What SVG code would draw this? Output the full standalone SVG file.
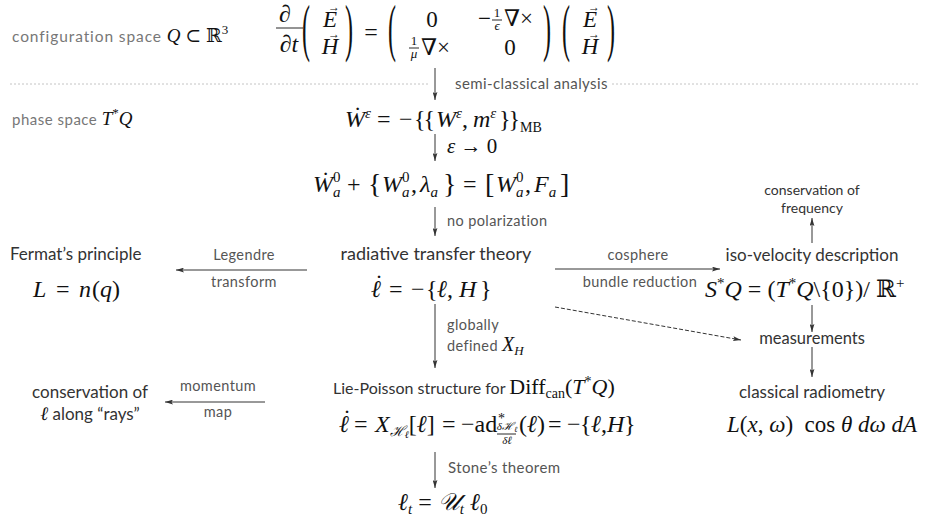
<svg xmlns="http://www.w3.org/2000/svg" width="925" height="522" viewBox="0 0 925 522">
<defs>
<style>
text{white-space:pre}
.s{font-family:Lato,"Noto Sans",sans-serif;fill:#333}
.sl{font-family:Lato,"Noto Sans",sans-serif;fill:#555;letter-spacing:0.4px}
.g{font-family:Lato,"Noto Sans",sans-serif;fill:#777;letter-spacing:0.5px}
.m{font-family:"Liberation Serif","DejaVu Serif",serif;fill:#111;letter-spacing:0}
.i{font-style:italic}
.c{stroke:#333;stroke-width:1;fill:none}
.bar{stroke:#111;stroke-width:0.9}
</style>
<marker id="ah" viewBox="0 0 10 6" refX="10" refY="3" markerWidth="8" markerHeight="5" orient="auto" markerUnits="userSpaceOnUse"><path d="M0,0 L10,3 L0,6 L2,3 z" fill="#333"/></marker>
</defs>
<rect width="925" height="522" fill="#fff"/>

<g id="sep">
<line x1="10" y1="84" x2="428" y2="84" stroke="#c4c4c4" stroke-width="1" stroke-dasharray="2 2"/>
<line x1="612" y1="84" x2="920" y2="84" stroke="#c4c4c4" stroke-width="1" stroke-dasharray="2 2"/>
<text class="g" x="12" y="42" font-size="15.5" style="letter-spacing:0.9px">configuration space <tspan class="m i" font-size="19">Q</tspan><tspan class="m" font-size="19"> ⊂ ℝ</tspan><tspan class="m" font-size="13" dy="-8">3</tspan></text>
<text class="g" x="12" y="125" font-size="15">phase space <tspan class="m i" font-size="19">T</tspan><tspan class="m" font-size="13" dy="-8">*</tspan><tspan class="m i" font-size="19" dy="8">Q</tspan></text>
</g>

<g id="maxwell">
<text class="m" x="285" y="22" font-size="24" text-anchor="middle">∂</text>
<line class="bar" x1="276" y1="28" x2="303" y2="28"/>
<text class="m" x="289" y="52" font-size="24" text-anchor="middle">∂<tspan class="i">t</tspan></text>
<text class="m" font-size="24" transform="translate(302,49) scale(1,2.6)">(</text>
<text class="m i" x="330" y="27" font-size="23" text-anchor="middle">E</text>
<text class="m" x="334" y="11" font-size="12" text-anchor="middle">→</text>
<text class="m i" x="330" y="54" font-size="23" text-anchor="middle">H</text>
<text class="m" x="334" y="38" font-size="12" text-anchor="middle">→</text>
<text class="m" font-size="24" transform="translate(345,49) scale(1,2.6)">)</text>
<text class="m" x="371" y="40" font-size="24" text-anchor="middle">=</text>
<text class="m" font-size="24" transform="translate(388,49) scale(1,2.6)">(</text>
<text class="m" x="432" y="27" font-size="23" text-anchor="middle">0</text>
<text class="m" x="414" y="45" font-size="13" text-anchor="middle">1</text>
<line class="bar" x1="409" y1="48" x2="419" y2="48"/>
<text class="m i" x="414" y="58" font-size="13" text-anchor="middle">μ</text>
<text class="m" x="421" y="55" font-size="23">∇×</text>
<text class="m" x="478" y="26" font-size="23">−</text>
<text class="m" x="497" y="17" font-size="13" text-anchor="middle">1</text>
<line class="bar" x1="492" y1="20" x2="502" y2="20"/>
<text class="m i" x="497" y="30" font-size="13" text-anchor="middle">ϵ</text>
<text class="m" x="504" y="26" font-size="23">∇×</text>
<text class="m" x="510" y="55" font-size="23" text-anchor="middle">0</text>
<text class="m" font-size="24" transform="translate(543,49) scale(1,2.6)">)</text>
<text class="m" font-size="24" transform="translate(562,49) scale(1,2.6)">(</text>
<text class="m i" x="590" y="27" font-size="23" text-anchor="middle">E</text>
<text class="m" x="594" y="11" font-size="12" text-anchor="middle">→</text>
<text class="m i" x="590" y="54" font-size="23" text-anchor="middle">H</text>
<text class="m" x="594" y="38" font-size="12" text-anchor="middle">→</text>
<text class="m" font-size="24" transform="translate(607,49) scale(1,2.6)">)</text>
</g>

<g id="wigner">
<text class="m" y="127" font-size="24"><tspan x="345" class="i">Ẇ</tspan><tspan class="i" font-size="15" dy="-9">ε</tspan><tspan x="377" dy="9">=</tspan><tspan x="399">−</tspan><tspan x="414" style="letter-spacing:-2px">{{</tspan><tspan x="436" class="i">W</tspan><tspan class="i" font-size="15" dy="-9">ε</tspan><tspan dy="9">,</tspan><tspan x="473" class="i">m</tspan><tspan class="i" font-size="15" dy="-9">ε</tspan><tspan x="499" dy="9" style="letter-spacing:-2px">}}</tspan><tspan x="520" font-size="14" dy="5">MB</tspan></text>
</g>

<g id="limit">
<text class="m" y="192" font-size="24"><tspan x="313" class="i">Ẇ</tspan><tspan font-size="15" dy="-10">0</tspan><tspan class="i" font-size="15" dx="-7.5" dy="15">a</tspan><tspan x="347" dy="-5">+</tspan><tspan x="368" dy="1" font-size="28">{</tspan><tspan x="382" dy="-1" class="i">W</tspan><tspan font-size="15" dy="-10">0</tspan><tspan class="i" font-size="15" dx="-7.5" dy="15">a</tspan><tspan x="411" dy="-5">,</tspan><tspan x="420" class="i">λ</tspan><tspan class="i" font-size="15" dy="5">a</tspan><tspan x="443" dy="-4" font-size="28">}</tspan><tspan x="463" dy="-1">=</tspan><tspan x="485" dy="1" font-size="28">[</tspan><tspan x="496" dy="-1" class="i">W</tspan><tspan font-size="15" dy="-10">0</tspan><tspan class="i" font-size="15" dx="-7.5" dy="15">a</tspan><tspan x="525" dy="-5">,</tspan><tspan x="534" class="i">F</tspan><tspan class="i" font-size="15" dy="5">a</tspan><tspan x="560" dy="-4" font-size="28">]</tspan></text>
</g>

<g id="rtt">
<text class="s" x="436" y="260" font-size="18" text-anchor="middle">radiative transfer theory</text>
<text class="m" y="297" font-size="24"><tspan x="371" class="i">ℓ</tspan><tspan x="389">=</tspan><tspan x="411">−</tspan><tspan x="426">{</tspan><tspan x="437" class="i">ℓ</tspan><tspan>,</tspan><tspan x="459" class="i">H</tspan><tspan x="480">}</tspan></text>
<text class="m" x="379" y="291" font-size="24" text-anchor="middle">˙</text>
</g>

<g id="fermat">
<text class="s" x="10" y="260" font-size="17">Fermat’s principle</text>
<text class="m" y="297" font-size="24"><tspan x="33" class="i">L</tspan><tspan x="56">=</tspan><tspan x="79" class="i">n</tspan><tspan x="92">(</tspan><tspan class="i">q</tspan><tspan>)</tspan></text>
</g>

<g id="isovel">
<text class="s" x="812" y="195" font-size="14" text-anchor="middle">conservation of</text>
<text class="s" x="812" y="213" font-size="14" text-anchor="middle">frequency</text>
<text class="s" x="812" y="261" font-size="17" text-anchor="middle">iso-velocity description</text>
<text class="m" x="705" y="297" font-size="24"><tspan class="i">S</tspan><tspan font-size="15" dy="-9">*</tspan><tspan class="i" dy="9">Q</tspan><tspan dx="6">=</tspan><tspan dx="6">(</tspan><tspan class="i">T</tspan><tspan font-size="15" dy="-9">*</tspan><tspan class="i" dy="9">Q</tspan><tspan>\{0})/ ℝ</tspan><tspan font-size="15" dy="-9">+</tspan></text>
</g>

<g id="meas">
<text class="s" x="812" y="344" font-size="16.5" text-anchor="middle">measurements</text>
</g>

<g id="radiometry">
<text class="s" x="812" y="398" font-size="17" text-anchor="middle">classical radiometry</text>
<text class="m" x="727" y="432" font-size="23"><tspan class="i">L</tspan>(<tspan class="i">x</tspan>, <tspan class="i">ω</tspan>)  cos <tspan class="i">θ dω dA</tspan></text>
</g>

<g id="rays">
<text class="s" x="90" y="398" font-size="17" text-anchor="middle">conservation of</text>
<text class="s" x="90" y="420" font-size="17" text-anchor="middle"><tspan class="m i" font-size="19">ℓ</tspan> along “rays”</text>
</g>

<g id="liepoisson">
<text class="s" x="333" y="394" font-size="16">Lie-Poisson structure for <tspan class="m" font-size="22">Diff</tspan><tspan class="m" font-size="14" dy="4">can</tspan><tspan class="m" font-size="22" dy="-4">(</tspan><tspan class="m i" font-size="22">T</tspan><tspan class="m" font-size="14" dy="-8">*</tspan><tspan class="m i" font-size="22" dy="8">Q</tspan><tspan class="m" font-size="22">)</tspan></text>
<text class="m" y="432" font-size="24"><tspan x="339" class="i">ℓ</tspan><tspan x="354">=</tspan><tspan x="375" class="i">X</tspan><tspan class="i" font-size="14" dy="4">ℋ</tspan><tspan class="i" font-size="10" dy="2">ℓ</tspan><tspan dy="-6">[</tspan><tspan class="i">ℓ</tspan><tspan>]</tspan><tspan x="442">=</tspan><tspan x="461">−ad</tspan><tspan x="519">(</tspan><tspan class="i">ℓ</tspan><tspan>)</tspan><tspan x="548">=</tspan><tspan x="567">−</tspan><tspan x="580">{</tspan><tspan x="591" class="i">ℓ</tspan><tspan>,</tspan><tspan x="607" class="i">H</tspan><tspan x="624">}</tspan></text>
<text class="m" x="347" y="426" font-size="24" text-anchor="middle">˙</text>
<text class="m" x="498" y="423" font-size="14">*</text>
<text class="m i" x="507" y="430" font-size="11" text-anchor="middle">δℋ<tspan font-size="8" dy="2">ℓ</tspan></text>
<line class="bar" x1="497" y1="434" x2="516" y2="434" stroke-width="0.7"/>
<text class="m i" x="507" y="444" font-size="11" text-anchor="middle">δℓ</text>
</g>

<g id="stone">
<text class="m" x="398" y="510" font-size="24"><tspan class="i">ℓ</tspan><tspan class="i" font-size="15" dy="4">t</tspan><tspan dy="-4"> = </tspan><tspan class="i">𝒰</tspan><tspan class="i" font-size="15" dy="4">t</tspan><tspan dy="-4"> </tspan><tspan class="i">ℓ</tspan><tspan font-size="15" dy="4">0</tspan></text>
</g>

<g id="connectors">
<path class="c" d="M435,68 V100" marker-end="url(#ah)"/>
<path class="c" d="M435,134 V161" marker-end="url(#ah)"/>
<path class="c" d="M435,207 V236" marker-end="url(#ah)"/>
<path class="c" d="M435,304 V368" marker-end="url(#ah)"/>
<path class="c" d="M435,452 V488" marker-end="url(#ah)"/>
<path class="c" d="M307,270 H176" marker-end="url(#ah)"/>
<path class="c" d="M265,402 H165" marker-end="url(#ah)"/>
<path class="c" d="M555,269 H720" marker-end="url(#ah)"/>
<path class="c" d="M812,243 V218" marker-end="url(#ah)"/>
<path class="c" d="M812,305 V332" marker-end="url(#ah)"/>
<path class="c" d="M812,347 V377" marker-end="url(#ah)"/>
<path class="c" d="M555,307 L741,340" stroke-dasharray="4 2" marker-end="url(#ah)"/>
<text class="sl" x="455" y="89" font-size="15">semi-classical analysis</text>
<text class="m" x="447" y="153" font-size="21"><tspan class="i">ε</tspan> → 0</text>
<text class="sl" x="447" y="226" font-size="14.5">no polarization</text>
<text class="sl" x="447" y="330" font-size="14.5">globally</text>
<text class="sl" x="447" y="351" font-size="14.5">defined <tspan class="m i" font-size="20">X</tspan><tspan class="m i" font-size="13" dy="4">H</tspan></text>
<text class="sl" x="448" y="473" font-size="15">Stone’s theorem</text>
<text class="sl" x="244" y="260" font-size="14.5" text-anchor="middle">Legendre</text>
<text class="sl" x="244" y="287" font-size="14.5" text-anchor="middle">transform</text>
<text class="sl" x="218" y="391" font-size="14.5" text-anchor="middle">momentum</text>
<text class="sl" x="218" y="417" font-size="14.5" text-anchor="middle">map</text>
<text class="sl" x="638" y="260" font-size="14.5" text-anchor="middle">cosphere</text>
<text class="sl" x="640" y="287" font-size="14.5" text-anchor="middle">bundle reduction</text>
</g>
</svg>
